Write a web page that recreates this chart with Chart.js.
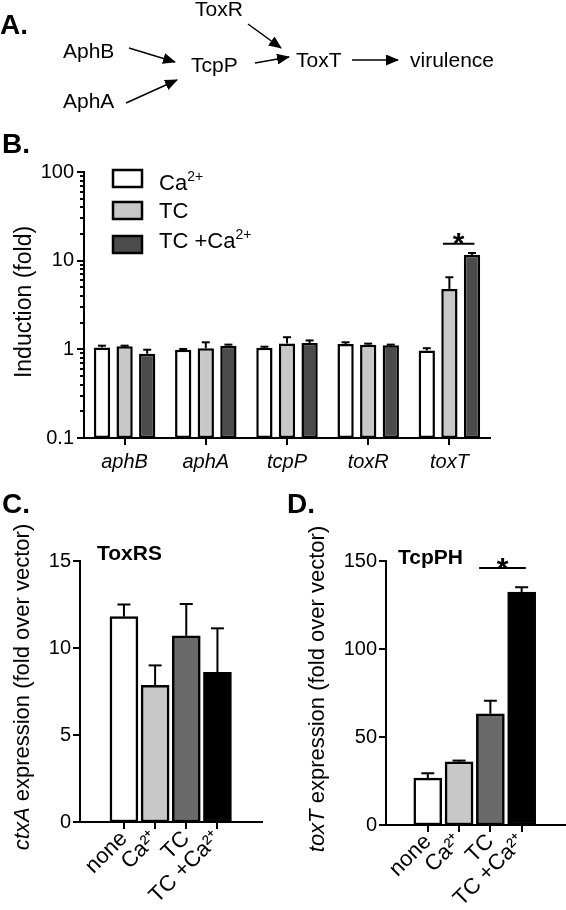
<!DOCTYPE html>
<html>
<head>
<meta charset="utf-8">
<script src="https://cdn.jsdelivr.net/npm/chart.js@4"></script>
<style>
  body { margin: 0; background: #fff; }
  #page { position: relative; width: 566px; height: 910px; overflow: hidden; }
  canvas { position: absolute; }
  svg { position: absolute; left: 0; top: 0; pointer-events: none; }
</style>
</head>
<body>
<div id="page">
  <canvas id="chartB" width="500" height="330" style="left:0;top:150px"></canvas>
  <canvas id="chartC" width="280" height="370" style="left:0;top:540px"></canvas>
  <canvas id="chartD" width="281" height="370" style="left:285px;top:540px"></canvas>
  <svg id="overlay" width="566" height="910" font-family="'Liberation Sans', Arial, sans-serif">
    <defs>
      <marker id="head" markerUnits="userSpaceOnUse" markerWidth="13" markerHeight="11" refX="12" refY="5.5" orient="auto">
        <path d="M0,0 L13,5.5 L0,11 z" fill="#000"/>
      </marker>
    </defs>
    <!-- panel A: pathway sketch -->
    <text x="0" y="34" font-size="28" font-weight="bold">A.</text>
    <g font-size="21">
      <text x="195" y="16">ToxR</text>
      <text x="63" y="58">AphB</text>
      <text x="191" y="71.5">TcpP</text>
      <text x="296" y="67">ToxT</text>
      <text x="410" y="67">virulence</text>
      <text x="63" y="108">AphA</text>
    </g>
    <g stroke="#000" stroke-width="1.4" marker-end="url(#head)">
      <line x1="129" y1="48" x2="175" y2="62"/>
      <line x1="126" y1="103" x2="177" y2="80"/>
      <line x1="248" y1="24" x2="281" y2="48"/>
      <line x1="255" y1="63" x2="289" y2="57"/>
      <line x1="352" y1="60" x2="398" y2="60"/>
    </g>
    <!-- panel letters -->
    <g font-size="28" font-weight="bold">
      <text x="2" y="153">B.</text>
      <text x="2" y="513">C.</text>
      <text x="287" y="513">D.</text>
    </g>
    <!-- axis titles -->
    <text transform="translate(31,302) rotate(-90)" text-anchor="middle" font-size="23">Induction (fold)</text>
    <text transform="translate(29,687) rotate(-90)" text-anchor="middle" font-size="22"><tspan font-style="italic">ctxA</tspan> expression (fold over vector)</text>
    <text transform="translate(324,689) rotate(-90)" text-anchor="middle" font-size="22"><tspan font-style="italic">toxT</tspan> expression (fold over vector)</text>
    <g font-size="21" font-weight="bold">
      <text x="97" y="560">ToxRS</text>
      <text x="398" y="564">TcpPH</text>
    </g>
    <g id="legendB"></g>
  </svg>
</div>

<script>
Chart.defaults.font.family = "'Liberation Sans', Arial, sans-serif";
Chart.defaults.color = '#000';

// ---- panel B: fold induction (log scale) ----
const genes = ['aphB', 'aphA', 'tcpP', 'toxR', 'toxT'];
const seriesB = ['Ca²⁺', 'TC', 'TC +Ca²⁺'];
const colorsB = ['#ffffff', '#c8c8c8', '#4b4b4b'];
const caFold = [1.05, 0.99, 1.04, 1.15, 0.97];
const caSem = [0.05, 0.02, 0.03, 0.05, 0.06];
const tcFold = [1.08, 1.03, 1.16, 1.13, 4.8];
const tcSem = [0.02, 0.17, 0.21, 0.03, 1.7];
const tcCaFold = [0.89, 1.10, 1.18, 1.11, 11.6];
const tcCaSem = [0.10, 0.03, 0.08, 0.02, 0.6];
const logTicks = [0.1, 1, 10, 100];

// ---- panels C and D ----
const conditions = ['none', 'Ca²⁺', 'TC', 'TC +Ca²⁺'];
const colorsCD = ['#ffffff', '#c8c8c8', '#6a6a6a', '#000000'];
const ctxA = [11.8, 7.86, 10.7, 8.6];
const ctxASem = [0.7, 1.14, 1.83, 2.53];
const toxT = [26.6, 35.9, 63.2, 132.3];
const toxTSem = [2.8, 0.7, 7.4, 2.8];

function line(ctx, x1, y1, x2, y2) {
  ctx.beginPath();
  ctx.moveTo(x1, y1);
  ctx.lineTo(x2, y2);
  ctx.stroke();
}

// tick marks, error bars and the significance bracket
const decor = {
  id: 'decor',
  afterDatasetsDraw(chart, args, o) {
    const ctx = chart.ctx, y = chart.scales.y;
    ctx.save();
    ctx.strokeStyle = '#000';
    ctx.lineWidth = 2;
    chart.data.datasets.forEach((ds, di) => {
      chart.getDatasetMeta(di).data.forEach((bar, i) => {
        const yErr = y.getPixelForValue(ds.upper[i]);
        line(ctx, bar.x, bar.y, bar.x, yErr);
        line(ctx, bar.x - o.cap, yErr, bar.x + o.cap, yErr);
      });
    });
    if (o.sig) {
      const s = o.sig;
      const b1 = chart.getDatasetMeta(s.ds1).data[s.i1];
      const b2 = chart.getDatasetMeta(s.ds2).data[s.i2];
      const ly = y.getPixelForValue(s.value);
      const x1 = b1.x - b1.width * 0.4, x2 = b2.x + b2.width * 0.15;
      line(ctx, x1, ly, x2, ly);
      ctx.fillStyle = '#000';
      ctx.font = "bold 30px 'Liberation Sans', Arial, sans-serif";
      ctx.textAlign = 'center';
      ctx.textBaseline = 'alphabetic';
      ctx.fillText('*', (x1 + x2) / 2, ly + 9.5);
    }
    ctx.restore();
  },
  afterDraw(chart, args, o) {
    const ctx = chart.ctx, x = chart.scales.x, y = chart.scales.y;
    ctx.save();
    ctx.strokeStyle = '#000';
    ctx.lineWidth = 2;
    if (o.log) {
      // majors long, 2..9 of each decade short
      logTicks.forEach((d, k) => {
        const py = Math.round(y.getPixelForValue(d));
        line(ctx, y.right - 7, py, y.right, py);
        if (k < logTicks.length - 1) {
          for (let m = 2; m <= 9; m++) {
            const pm = Math.round(y.getPixelForValue(m * d));
            line(ctx, y.right - 4, pm, y.right, pm);
          }
        }
      });
    } else {
      y.ticks.forEach(t => {
        const py = Math.round(y.getPixelForValue(t.value));
        line(ctx, y.right - 7, py, y.right, py);
      });
    }
    x.ticks.forEach((t, i) => {
      const px = Math.round(x.getPixelForTick(i));
      line(ctx, px, x.top, px, x.top + 7);
    });
    ctx.restore();
  }
};

function upper(vals, sem) {
  return vals.map((v, i) => v + sem[i]);
}

new Chart(document.getElementById('chartB'), {
  type: 'bar',
  data: {
    labels: genes,
    datasets: [
      { label: seriesB[0], data: caFold, upper: upper(caFold, caSem), backgroundColor: colorsB[0] },
      { label: seriesB[1], data: tcFold, upper: upper(tcFold, tcSem), backgroundColor: colorsB[1] },
      { label: seriesB[2], data: tcCaFold, upper: upper(tcCaFold, tcCaSem), backgroundColor: colorsB[2] }
    ]
  },
  options: {
    responsive: false,
    animation: false,
    devicePixelRatio: 1,
    layout: { padding: { top: 18, right: 10, left: 0, bottom: 0 } },
    datasets: { bar: { borderColor: '#000', borderWidth: 2.5, borderSkipped: false, categoryPercentage: 0.835, barPercentage: 0.72 } },
    plugins: {
      legend: { display: false },
      tooltip: { enabled: false },
      decor: { log: true, cap: 4, sig: { ds1: 1, i1: 4, ds2: 2, i2: 4, value: 15.5 } }
    },
    scales: {
      x: {
        grid: { display: false, drawTicks: false },
        border: { color: '#000', width: 2 },
        ticks: { color: '#000', padding: 12, maxRotation: 0, font: { size: 20, style: 'italic' } },
        afterFit: s => { s.height = 42; }
      },
      y: {
        type: 'logarithmic',
        min: 0.1,
        max: 100,
        grid: { display: false, drawTicks: false },
        border: { color: '#000', width: 2 },
        ticks: {
          color: '#000', padding: 10, autoSkip: false, font: { size: 20 },
          callback: v => {
            const hit = logTicks.find(t => Math.abs(t - v) < 1e-9);
            return hit === undefined ? '' : String(hit);
          }
        },
        afterFit: s => { s.width = 84; }
      }
    }
  },
  plugins: [decor]
});

function smallBars(id, vals, sem, yMax, xMin, xMax, yWidth, xHeight, padTop, padRight, sig) {
  return new Chart(document.getElementById(id), {
    type: 'bar',
    data: {
      datasets: [{
        data: vals.map((v, i) => ({ x: i, y: v })),
        upper: upper(vals, sem),
        backgroundColor: colorsCD,
        borderColor: '#000',
        borderWidth: 2.5,
        borderSkipped: false,
        barThickness: 28
      }]
    },
    options: {
      responsive: false,
      animation: false,
      devicePixelRatio: 1,
      layout: { padding: { top: padTop, right: padRight, left: 0, bottom: 0 } },
      plugins: {
        legend: { display: false },
        tooltip: { enabled: false },
        decor: { log: false, cap: 6.5, sig: sig }
      },
      scales: {
        x: {
          type: 'linear',
          min: xMin,
          max: xMax,
          grid: { display: false, drawTicks: false },
          border: { color: '#000', width: 2 },
          afterBuildTicks: s => { s.ticks = conditions.map((c, i) => ({ value: i })); },
          ticks: {
            color: '#000', padding: 4, autoSkip: false, minRotation: 45, maxRotation: 45,
            font: { size: 22 },
            callback: v => conditions[v]
          },
          afterFit: s => { s.height = xHeight; }
        },
        y: {
          min: 0,
          max: yMax,
          grid: { display: false, drawTicks: false },
          border: { color: '#000', width: 2 },
          ticks: { color: '#000', padding: 9, stepSize: yMax / 3, font: { size: 20 } },
          afterFit: s => { s.width = yWidth; }
        }
      }
    },
    plugins: [decor]
  });
}

smallBars('chartC', ctxA, ctxASem, 15, -0.68, 3.7, 80, 88, 13, 18, null);
smallBars('chartD', toxT, toxTSem, 150, -0.62, 3.67, 101, 85, 16, 1, { ds1: 0, i1: 2, ds2: 0, i2: 3, value: 146 });

// legend for panel B, built from the series names and colours
const svgNS = 'http://www.w3.org/2000/svg';
const legend = document.getElementById('legendB');
const rowBoxTop = [170, 202, 236];
const rowBase = [190, 218, 248];
seriesB.forEach((name, i) => {
  const r = document.createElementNS(svgNS, 'rect');
  r.setAttribute('x', 113); r.setAttribute('y', rowBoxTop[i]);
  r.setAttribute('width', 29); r.setAttribute('height', 17);
  r.setAttribute('fill', colorsB[i]); r.setAttribute('stroke', '#000'); r.setAttribute('stroke-width', 2.5);
  legend.appendChild(r);
  const t = document.createElementNS(svgNS, 'text');
  t.setAttribute('x', 159); t.setAttribute('y', rowBase[i]);
  t.setAttribute('font-size', 22);
  const parts = name.split('²⁺');
  const base = document.createElementNS(svgNS, 'tspan');
  base.textContent = parts[0];
  t.appendChild(base);
  if (parts.length > 1) {
    const sup = document.createElementNS(svgNS, 'tspan');
    sup.setAttribute('font-size', 14);
    sup.setAttribute('dy', -9);
    sup.textContent = '2+';
    t.appendChild(sup);
  }
  legend.appendChild(t);
});
</script>
</body>
</html>
